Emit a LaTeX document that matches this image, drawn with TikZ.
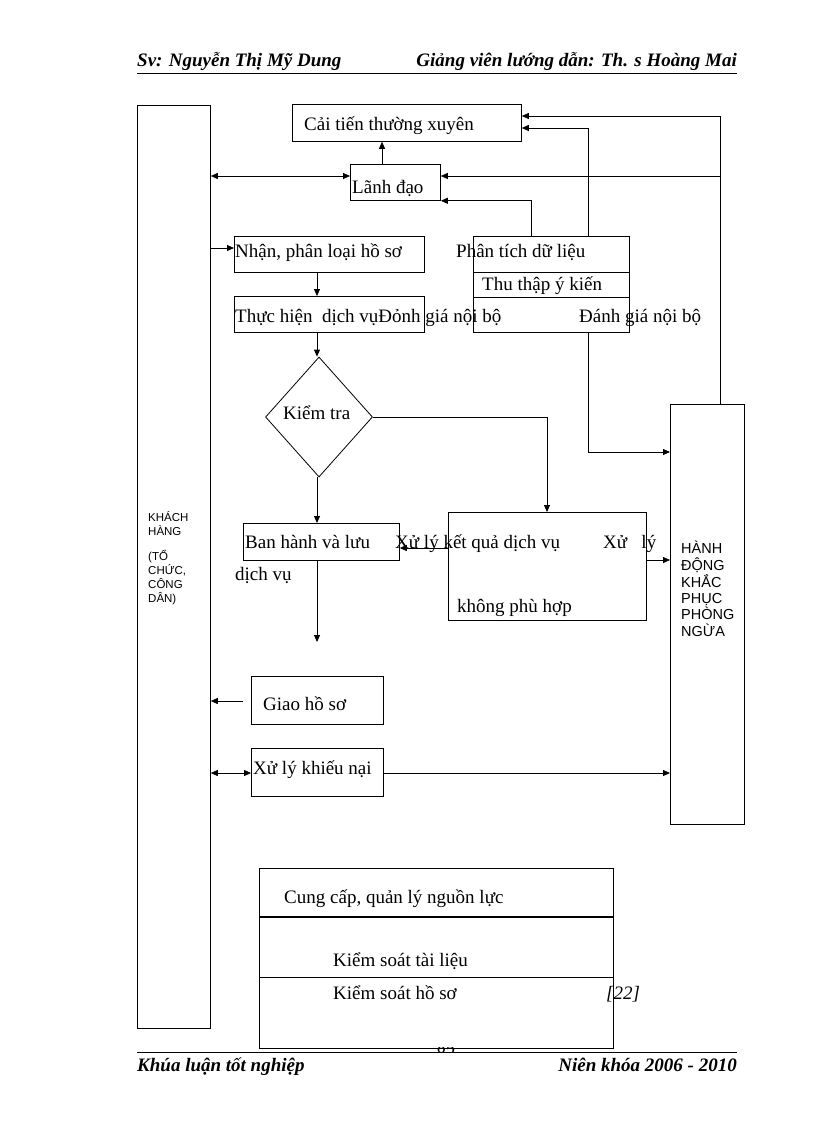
\documentclass[tikz,border=0pt]{standalone}
\usepackage{fontspec}
\setmainfont{Liberation Serif}
\setsansfont{Liberation Sans}
\usetikzlibrary{arrows.meta,shapes.geometric}
\begin{document}
\begin{tikzpicture}[x=1pt,y=-1pt,
  box/.style={draw, line width=0.8pt, inner sep=0, anchor=north west},
  lbl/.style={anchor=base west, inner sep=0, font=\fontsize{19}{21}\selectfont},
  sl/.style={anchor=base west, inner sep=0, font=\sffamily\fontsize{11.5}{13}\selectfont},
  sb/.style={anchor=base west, inner sep=0, font=\sffamily\fontsize{14.5}{16}\selectfont},
  hd/.style={inner sep=0, font=\bfseries\itshape\fontsize{19}{21}\selectfont},
  ln/.style={line width=0.8pt},
  arr/.style={ln, -{Triangle[length=7pt,width=6pt]}},
  dbl/.style={ln, {Triangle[length=7pt,width=6pt]}-{Triangle[length=7pt,width=6pt]}},
  ]
\useasboundingbox (0,0) rectangle (816,1123);
% header / footer
\node[hd, anchor=base west] (h1) at (137,67) {Sv: Nguyễn Thị Mỹ Dung};
\node[hd, anchor=base east] (h2) at (737,67) {Giảng viên lướng dẫn: Th. s Hoàng Mai};
\draw[ln] (137,73) -- (737,73);
\draw[ln] (137,1052) -- (737,1052);
\node[hd, anchor=base west] (f1) at (137,1071) {Khúa luận tốt nghiệp};
\node[hd, anchor=base east] (f2) at (737,1071) {Niên khóa 2006 - 2010};
\begin{scope}
\clip (430,1047.5) rectangle (462,1051.5);
\node[lbl, anchor=base] (pg) at (446,1059) {82};
\end{scope}

% boxes
\node[box, minimum width=73, minimum height=923] (kh) at (137,105) {};
\node[box, minimum width=229, minimum height=37] (cai) at (292,104) {};
\node[box, minimum width=90, minimum height=36] (lanh) at (350,164) {};
\node[box, minimum width=190, minimum height=36] (nhan) at (234,236) {};
\node[box, minimum width=190, minimum height=36] (thuc) at (234,296) {};
\node[box, minimum width=156, minimum height=96] (pt) at (473,236) {};
\node[draw, line width=0.8pt, shape=diamond, inner sep=0, minimum width=107, minimum height=120] (kt) at (319,417) {};
\node[box, minimum width=156, minimum height=37] (ban) at (243,523) {};
\node[box, minimum width=198, minimum height=108] (xl) at (448,512) {};
\node[box, minimum width=74, minimum height=420] (hanh) at (670,404) {};
\node[box, minimum width=132, minimum height=48] (giao) at (251,676) {};
\node[box, minimum width=132, minimum height=48] (kn) at (251,748) {};
\node[box, minimum width=354, minimum height=180] (res) at (259,868) {};

% inner lines
\draw[ln] (pt.north west) ++(0,36) -- ++(156,0);
\draw[ln] (pt.north west) ++(0,61) -- ++(156,0);
\draw[line width=2pt] (res.north west) ++(0,49) -- ++(354,0);
\draw[ln] (res.north west) ++(0,109) -- ++(354,0);

% helper coordinates
\coordinate (c317) at (317,0);
\coordinate (c382) at (382,0);
\coordinate (c531) at (531,0);
\coordinate (c547) at (547,0);
\coordinate (c588) at (588,0);
\coordinate (c720) at (720,0);
\coordinate (y116) at (0,116);
\coordinate (y128) at (0,128);
\coordinate (y176) at (0,176);
\coordinate (y248) at (0,248);
\coordinate (y452) at (0,452);
\coordinate (y548) at (0,548);
\coordinate (y560) at (0,560);
\coordinate (y773) at (0,773);
\coordinate (endA) at (317,642);
\coordinate (giaoS) at (243,701);

% connectors
\draw[arr] (lanh.north -| c382) -- (cai.south -| c382);
\draw[dbl] (kh.east |- y176) -- (lanh.west |- y176);
\draw[arr] (hanh.north -| c720) |- (cai.east |- y116);
\draw[arr] (c720 |- y176) -- (lanh.east |- y176);
\draw[arr] (pt.north -| c531) |- (lanh.south east);
\draw[arr] (pt.north -| c588) |- (cai.east |- y128);
\draw[arr] (pt.south -| c588) |- (hanh.west |- y452);
\draw[arr] (kh.east |- y248) -- (nhan.west |- y248);
\draw[arr] (nhan.south -| c317) -- (thuc.north -| c317);
\draw[arr] (thuc.south -| c317) -- (kt.north -| c317);
\draw[arr] (kt.east) -| (xl.north -| c547);
\draw[arr] (kt.south -| c317) -- (ban.north -| c317);
\draw[arr] (xl.west |- y548) -- (ban.east |- y548);
\draw[arr] (xl.east |- y560) -- (hanh.west |- y560);
\draw[arr] (ban.south -| c317) -- (endA);
\draw[arr] (giaoS) -- (kh.east |- giaoS);
\draw[dbl] (kh.east |- y773) -- (kn.west |- y773);
\draw[arr] (kn.east |- y773) -- (hanh.west |- y773);

% texts
\node[lbl] (t1) at (304,131) {Cải tiến thường xuyên};
\node[lbl] (t2) at (352,194) {Lãnh đạo};
\node[lbl] (t3) at (235,258) {Nhận, phân loại hồ sơ};
\node[lbl] (t4) at (456,258) {Phân tích dữ liệu};
\node[lbl] (t5) at (482,290) {Thu thập ý kiến};
\node[lbl] (t6) at (235,322) {Thực hiện\ \ dịch vụĐỏnh giá nội bộ};
\node[lbl] (t7) at (579,322) {Đánh giá nội bộ};
\node[lbl] (t8) at (283,419) {Kiểm tra};
\node[lbl] (t9) at (245,548) {Ban hành và lưu};
\node[lbl] (t10) at (235,580) {dịch vụ};
\node[lbl] (t11) at (395,548) {Xử lý kết quả dịch vụ};
\node[lbl] (t12) at (603,548) {Xử\ \ \ lý};
\node[lbl] (t13) at (457,612) {không phù hợp};
\node[lbl] (t14) at (263,710) {Giao hồ sơ};
\node[lbl] (t15) at (253,774) {Xử lý khiếu nại};
\node[lbl] (t16) at (284,903) {Cung cấp, quản lý nguồn lực};
\node[lbl] (t17) at (333,966) {Kiểm soát tài liệu};
\node[lbl] (t18) at (333,999) {Kiểm soát hồ sơ};
\node[lbl, font=\itshape\fontsize{19}{21}\selectfont] (t19) at (606,999) {[22]};

\node[sl] (k1) at (148,521) {KHÁCH};
\node[sl] (k2) at (148,535) {HÀNG};
\node[sl] (k3) at (148,560) {(TỔ};
\node[sl] (k4) at (148,574) {CHỨC,};
\node[sl] (k5) at (148,588) {CÔNG};
\node[sl] (k6) at (148,602) {DÂN)};

\node[sb] (a1) at (681,553) {HÀNH};
\node[sb] (a2) at (681,570) {ĐỘNG};
\node[sb] (a3) at (681,587) {KHẮC};
\node[sb] (a4) at (681,603) {PHỤC};
\node[sb] (a5) at (681,619) {PHÒNG};
\node[sb] (a6) at (681,636) {NGỪA};
\end{tikzpicture}
\end{document}
